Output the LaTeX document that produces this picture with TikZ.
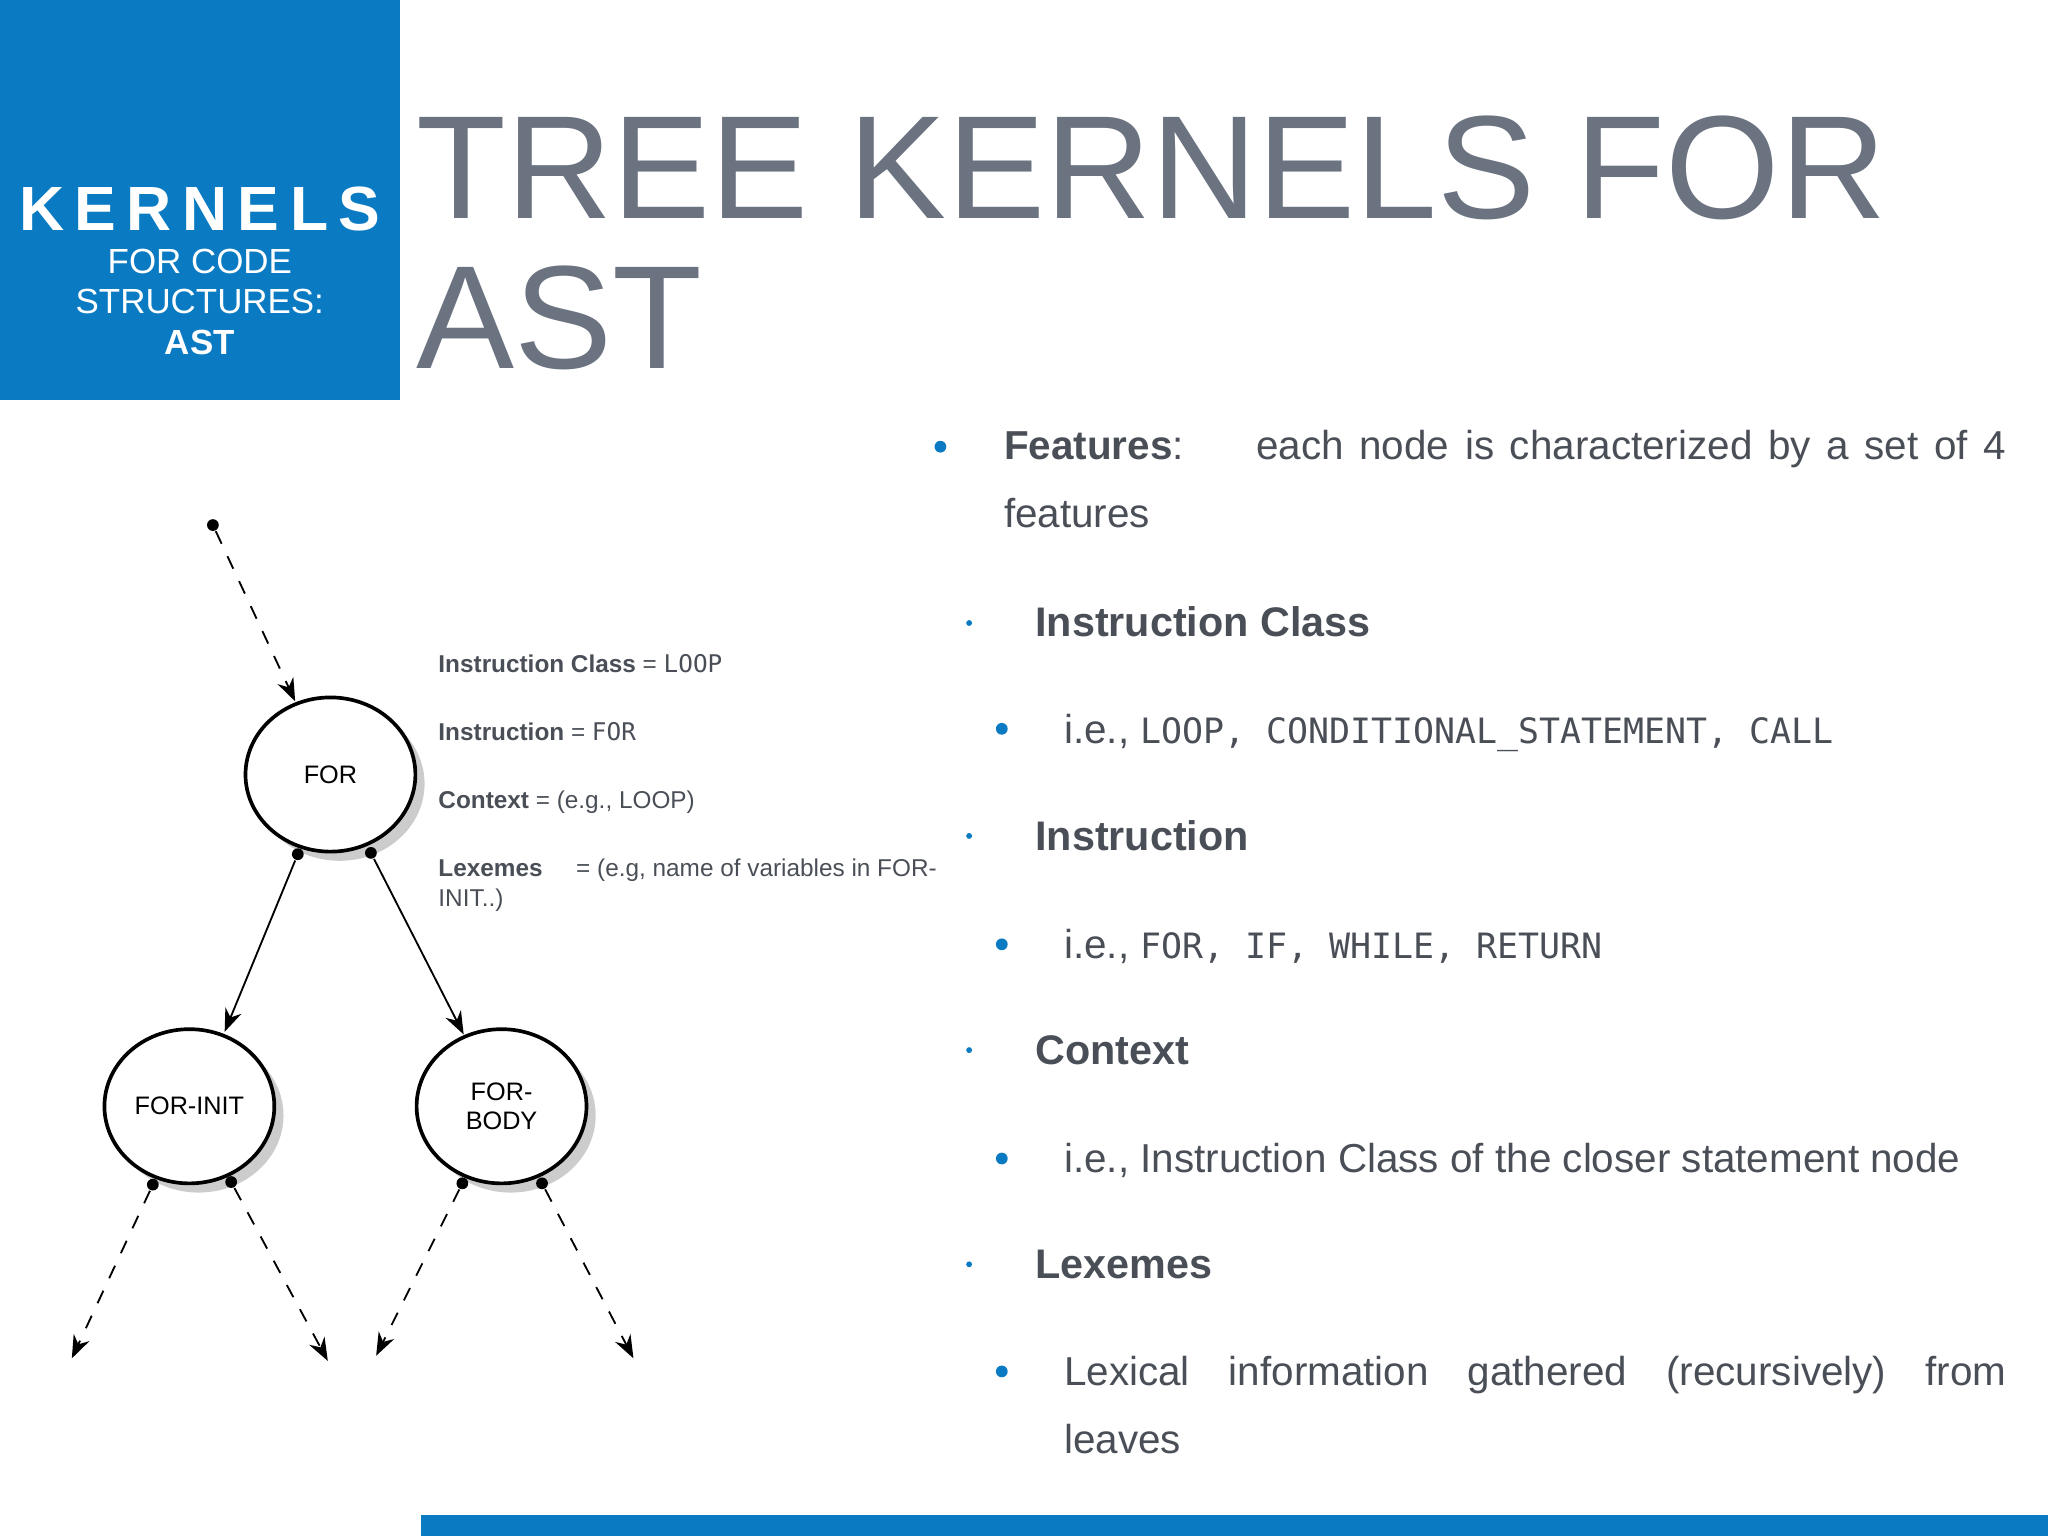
\documentclass[tikz,border=0pt]{standalone}
\usepackage{fontspec}
\setmainfont{Liberation Sans}
\newfontfamily\monof{DejaVu Sans Mono}
\usetikzlibrary{shadows,arrows.meta,shapes.geometric}
\definecolor{kblue}{HTML}{0A7BC2}
\definecolor{kgray}{HTML}{4A4F57}
\definecolor{tgray}{HTML}{6B7280}
\begin{document}
\begin{tikzpicture}[x=0.01cm,y=-0.01cm,
  tnode/.style={draw,thick,fill=white,ellipse,inner sep=0pt,minimum width=1.3cm,minimum height=1.18cm,font=\fontsize{5.5}{6.5}\selectfont,align=center,drop shadow={shadow xshift=2pt,shadow yshift=-2pt,opacity=0.4}},
  dotc/.style={circle,fill=black,inner sep=0,minimum size=0.09cm},
  solidarr/.style={-{Stealth[length=5pt]},thin},
  dasharr/.style={-{Stealth[length=5pt]},dashed,thin},
  lbl/.style={anchor=base west,inner sep=0,font=\fontsize{5.3}{6.5}\selectfont,text=kgray},
  body/.style={anchor=base west,inner sep=0,font=\fontsize{8.8}{11}\selectfont,text=kgray},
  head/.style={anchor=base west,inner sep=0,font=\fontsize{9}{11}\selectfont\bfseries,text=kgray},
  bl/.style={circle,fill=kblue,inner sep=0}]
\useasboundingbox (0,0) rectangle (1568,1176);
\fill[kblue] (0,0) rectangle (306,306);
\fill[kblue] (322,1160) rectangle (1568,1176);
\node[text=white,font=\fontsize{13.6}{16}\selectfont\bfseries,inner sep=0] (k) at (153,160) {K\,E\,R\,N\,E\,L\,S};
\node[text=white,font=\fontsize{7.6}{8.8}\selectfont,align=center,inner sep=0,anchor=north] (k2) at (153,190) {FOR CODE\\STRUCTURES:\\\textbf{AST}};
\node[text=tgray,font=\fontsize{32}{32}\selectfont,anchor=base west,inner sep=0] (t) at (318,167) {TREE KERNELS FOR};
\node[text=tgray,font=\fontsize{32}{32}\selectfont,anchor=base west,inner sep=0] (t2) at (318,282) {AST};
% tree
\node[tnode] (for) at (253,593) {FOR};
\node[tnode] (fi) at (145,847) {FOR-INIT};
\node[tnode] (fb) at (384,847) {FOR-\\BODY};
\node[dotc] (top) at (163,402) {};
\coordinate (forin) at (226,537);
\draw[dasharr] (top) -- (forin);
\node[dotc] (d1) at (228,654) {};
\node[dotc] (d2) at (284,653) {};
\coordinate (fiin) at (172,790);
\coordinate (fbin) at (355,792);
\draw[solidarr] (d1) -- (fiin);
\draw[solidarr] (d2) -- (fbin);
\node[dotc] (d3) at (117,907) {};
\node[dotc] (d4) at (177,905) {};
\node[dotc] (d5) at (354,906) {};
\node[dotc] (d6) at (415,906) {};
\coordinate (e3) at (55,1040);
\coordinate (e4) at (251,1042);
\coordinate (e5) at (288,1038);
\coordinate (e6) at (485,1040);
\draw[dasharr] (d3) -- (e3);
\draw[dasharr] (d4) -- (e4);
\draw[dasharr] (d5) -- (e5);
\draw[dasharr] (d6) -- (e6);
% labels
\node[lbl] (l1) at (335,515) {\textbf{Instruction Class} = {\monof LOOP}};
\node[lbl] (l2) at (335,567) {\textbf{Instruction} = {\monof FOR}};
\node[lbl] (l3) at (335,619) {\textbf{Context} = (e.g., LOOP)};
\node[lbl] (l4) at (335,671) {\textbf{Lexemes}\hspace{1.1em} = (e.g,\ name\ of\ variables\ in\ FOR-};
\node[lbl] (l4b) at (335,694) {INIT..)};
% right bullets
\node[bl,minimum size=0.09cm] (b1) at (720,342) {};
\node[body] (f1) at (768,352) {\makebox[7.67cm][s]{\textbf{Features}:\hspace{1.2em} each node is characterized by a set of 4}};
\node[body] (f2) at (768,404) {features};
\node[bl,minimum size=0.045cm] (b2) at (742,477) {};
\node[head] (h1) at (792,487) {Instruction Class};
\node[bl,minimum size=0.09cm] (b3) at (767,558) {};
\node[body] (i1) at (814,569) {i.e., {\monof\fontsize{7.6}{9}\selectfont LOOP, CONDITIONAL\_STATEMENT, CALL}};
\node[bl,minimum size=0.045cm] (b4) at (742,640) {};
\node[head] (h2) at (792,651) {Instruction};
\node[bl,minimum size=0.09cm] (b5) at (767,723) {};
\node[body] (i2) at (814,734) {i.e., {\monof\fontsize{7.6}{9}\selectfont FOR, IF, WHILE, RETURN}};
\node[bl,minimum size=0.045cm] (b6) at (742,804) {};
\node[head] (h3) at (792,815) {Context};
\node[bl,minimum size=0.09cm] (b7) at (767,887) {};
\node[body] (i3) at (814,898) {i.e., Instruction Class of the closer statement node};
\node[bl,minimum size=0.045cm] (b8) at (742,968) {};
\node[head] (h4) at (792,979) {Lexemes};
\node[bl,minimum size=0.09cm] (b9) at (767,1050) {};
\node[body] (i4) at (814,1061) {\makebox[7.21cm][s]{Lexical information gathered (recursively) from}};
\node[body] (i5) at (814,1113) {leaves};
\end{tikzpicture}
\end{document}
